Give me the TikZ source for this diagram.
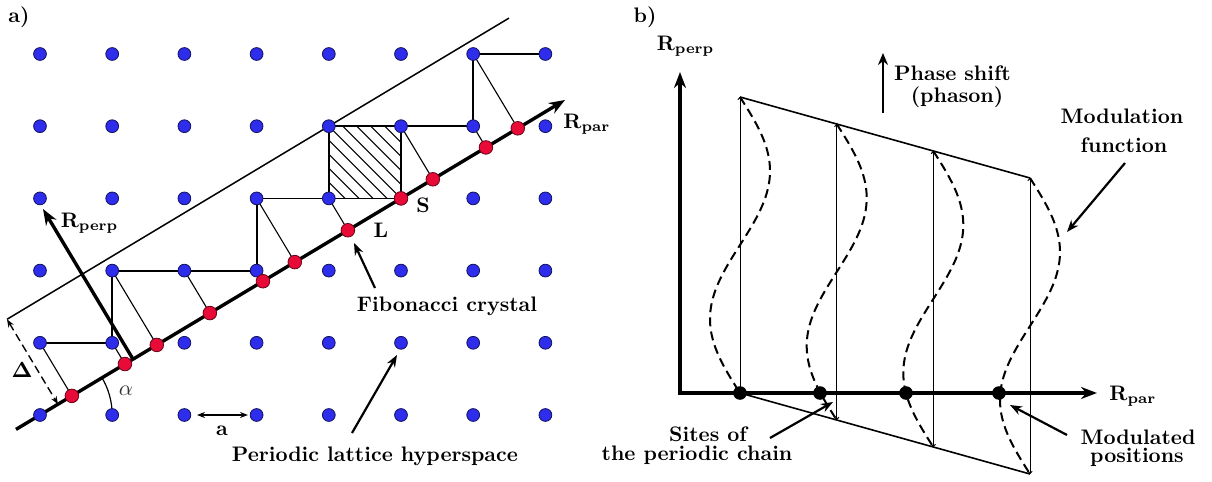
\documentclass[tikz,border=0pt]{standalone}
\usetikzlibrary{arrows.meta,calc}
\definecolor{dotblue}{RGB}{45,45,235}
\definecolor{dotred}{RGB}{232,10,55}
\tikzset{
  bdot/.style={circle,fill=dotblue,draw=black!60!dotblue,line width=0.4pt,inner sep=0pt,minimum size=6.4pt},
  rdot/.style={circle,fill=dotred,draw=black!55!dotred,line width=0.4pt,inner sep=0pt,minimum size=6.8pt},
  kdot/.style={circle,fill=black,inner sep=0pt,minimum size=6.8pt},
  lab/.style={font=\fontsize{10.5}{12}\selectfont\bfseries,inner sep=0pt,anchor=base},
  stair/.style={line width=0.9pt},
  proj/.style={line width=0.55pt},
  heavy/.style={line width=1.7pt},
  ann/.style={line width=1.1pt,-{Stealth[length=6pt,width=4.5pt]}},
  bigtip/.style={-{Stealth[length=8pt,width=6pt]}},
  smalltip/.style={{Stealth[length=4pt,width=3pt]}-{Stealth[length=4pt,width=3pt]}},
  vline/.style={line width=0.5pt,{Straight Barb[length=1pt,width=2.2pt]}-{Straight Barb[length=1pt,width=2.2pt]}},
  modcurve/.style={line width=1pt,dash pattern=on 4.5pt off 2.6pt},
}
\begin{document}
\begin{tikzpicture}[x=0.5pt,y=-0.5pt]
\useasboundingbox (0,0) rectangle (1212,482);

% ================= panel a =================
\foreach \i in {0,...,7}{
  \foreach \j in {0,...,5}{
    \coordinate (p-\i-\j) at ({40+72.2*\i},{415-72.2*\j});
  }
}
\coordinate (ls) at (16,429.4);
\coordinate (le) at (565,100);
\coordinate (us) at (7,319.3);
\coordinate (ue) at (509,18.1);
\coordinate (df) at ($(ls)!(us)!(le)$);
\coordinate (rp0) at (133,359.2);
\coordinate (rp1) at (43,209);

% upper boundary of strip
\draw[line width=0.75pt] (us) -- (ue);
% Delta
\draw[line width=0.7pt,dash pattern=on 4pt off 2.2pt,smalltip] (us) -- (df);

% hatched cell
\begin{scope}
  \clip (p-4-3) rectangle (p-5-4);
  \foreach \c in {-70,-56,...,70}{
    \draw[proj] ($(p-4-4)+(\c,0)$) -- ++(100,100);
  }
\end{scope}

% staircase
\draw[stair] (p-0-1) -- (p-1-1) -- (p-1-2) -- (p-2-2) -- (p-3-2) -- (p-3-3) -- (p-4-3)
  -- (p-4-4) -- (p-5-4) -- (p-6-4) -- (p-6-5) -- (p-7-5);
\draw[stair] (p-4-3) -- (p-5-3) -- (p-5-4);

% projections
\foreach \i/\j in {0/1,1/1,1/2,2/2,3/2,3/3,4/3,5/4,6/4,6/5}{
  \coordinate (r-\i-\j) at ($(ls)!(p-\i-\j)!(le)$);
  \draw[proj] (p-\i-\j) -- (r-\i-\j);
}

% R_par line and R_perp arrow
\draw[heavy,bigtip] (ls) -- (le);
\draw[heavy,bigtip] (rp0) -- (rp1);

% alpha arc
\draw[line width=0.6pt] (p-1-0) arc[start angle=0,end angle=-31,radius=73];

% lattice dots
\foreach \i in {0,...,7}{
  \foreach \j in {0,...,5}{
    \node[bdot] (n-\i-\j) at (p-\i-\j) {};
  }
}
\foreach \i/\j in {0/1,1/1,1/2,2/2,3/2,3/3,4/3,5/4,6/4,6/5}{
  \node[rdot] (m-\i-\j) at (r-\i-\j) {};
}
\node[rdot] (m-5-3) at (p-5-3) {};

% scale a
\coordinate (sa0) at (197,415);
\coordinate (sa1) at (248,415);
\draw[line width=0.8pt,smalltip] (sa0) -- (sa1);

% labels panel a
\node[lab] (la) at (19,22) {a)};
\node[lab] (lRperpA) at (89.5,227) {R\textsubscript{perp}};
\node[lab,anchor=base west] (lRparA) at (563,128) {R\textsubscript{par}};
\node[lab] (lS) at (423,212) {S};
\node[lab] (lL) at (381,237) {L};
\node[lab] (lDelta) at (22,377) {$\mathbf{\Delta}$};
\node[inner sep=0pt,anchor=base,font=\fontsize{10.5}{12}\selectfont,text=black!80] (lalpha) at (126,395) {$\alpha$};
\node[lab] (lfib) at (447,311.7) {Fibonacci crystal};
\node[lab] (lplh) at (375,461.5) {Periodic lattice hyperspace};
\node[lab] (la2) at (222,435) {a};

\coordinate (fa0) at (375,288);
\coordinate (fa1) at (354,243);
\draw[ann] (fa0) -- (fa1);
\coordinate (pa0) at (352,433);
\coordinate (pa1) at (397,355);
\draw[ann] (pa0) -- (pa1);

% ================= panel b =================
\coordinate (o) at (680,393);
\coordinate (yt) at (680,72);
\coordinate (xt) at (1097,393);

\foreach \k/\xv/\yv in {1/740/97,2/836.7/124,3/933.3/151,4/1030/178}{
  \coordinate (T\k) at (\xv,\yv);
  \coordinate (B\k) at ({\xv},{\yv+296});
  \draw[vline] (T\k) -- (B\k);
  \draw[modcurve] plot[domain=0:1,samples=60,smooth] ({\xv+30*sin(360*\x)},{\yv+296*\x});
}
\draw[line width=0.8pt] (T1) -- (T4);
\draw[line width=0.8pt] (B1) -- (B4);

\draw[heavy,{Stealth[length=8pt,width=6pt]}-{Stealth[length=8pt,width=6pt]}] (yt) -- (o) -- (xt);

\node[kdot] (d1) at (740,393) {};
\node[kdot] (d2) at (820,393) {};
\node[kdot] (d3) at (906,393) {};
\node[kdot] (d4) at (999,393) {};

\coordinate (ph0) at (883,113);
\coordinate (ph1) at (883,53);
\draw[line width=1.3pt,-{Stealth[length=6pt,width=5pt]}] (ph0) -- (ph1);

\node[lab] (lb) at (645,22) {b)};
\node[lab] (lRperpB) at (685.5,50) {R\textsubscript{perp}};
\node[lab,anchor=base west] (lRparB) at (1109,400) {R\textsubscript{par}};
\node[lab] (lph1) at (952.5,80) {Phase shift};
\node[lab] (lph2) at (957,102) {(phason)};
\node[lab] (lmf1) at (1122,123) {Modulation};
\node[lab] (lmf2) at (1124,152) {function};
\node[lab] (lsc1) at (708,441) {Sites of};
\node[lab] (lsc2) at (697,460.7) {the periodic chain};
\node[lab] (lmp1) at (1138,444) {Modulated};
\node[lab] (lmp2) at (1137,462.7) {positions};

\coordinate (mf0) at (1125,163);
\coordinate (mf1) at (1067,232);
\draw[ann] (mf0) -- (mf1);
\coordinate (sc0) at (770,438);
\coordinate (sc1) at (833,402);
\draw[ann] (sc0) -- (sc1);
\coordinate (mp0) at (1067,435);
\coordinate (mp1) at (1010,405);
\draw[ann] (mp0) -- (mp1);
\end{tikzpicture}
\end{document}
